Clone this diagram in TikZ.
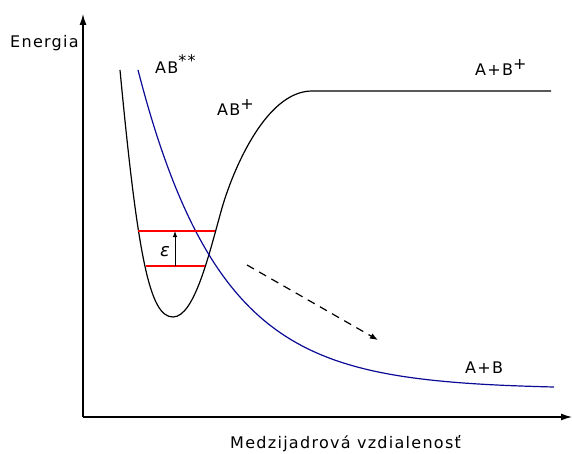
\documentclass[tikz,border=0pt]{standalone}
\usepackage{fontspec}
\setmainfont{DejaVu Sans}[LetterSpace=8]
\usetikzlibrary{arrows.meta}
\definecolor{curveblue}{RGB}{10,10,150}
\newcommand{\mysup}[2][6pt]{\raisebox{#1}{\fontsize{16}{16}\selectfont #2}}
\tikzset{
  lbl/.style={anchor=base west,inner sep=0pt,font=\fontsize{16}{18}\selectfont},
  axis/.style={line width=1.3pt,-{Latex[length=11pt,width=7pt]}},
  curve/.style={line width=1.2pt},
  level/.style={red,line width=1.2pt},
}
\begin{document}
\begin{tikzpicture}[x=1pt,y=-1pt]
\useasboundingbox (0,0) rectangle (572,454);
% axes
\coordinate (O) at (83,417);
\coordinate (ytop) at (83,14);
\coordinate (xend) at (572,417);
\draw[axis] (O) -- (ytop);
\draw[axis] (O) -- (xend);
% black curve AB+
\draw[curve] (120,70) .. controls (138,260) and (150,317) .. (173,317)
  .. controls (195,317) and (210,250) .. (222,208)
  .. controls (232,173) and (265,91) .. (312,91) -- (551,91);
% blue curve AB**
\draw[curve,curveblue,domain=138:554,samples=120,smooth] plot (\x,{389-319*exp(-(\x-138)/82)});
% vibrational levels
\coordinate (u1) at (138,231); \coordinate (u2) at (215,231);
\coordinate (l1) at (146,266); \coordinate (l2) at (205,266);
\draw[level] (u1) -- (u2);
\draw[level] (l1) -- (l2);
\coordinate (ea) at (175,266); \coordinate (eb) at (175,231);
\draw[line width=0.9pt,-{Latex[length=6pt,width=4.5pt]}] (ea) -- (eb);
% dashed arrow
\coordinate (d1) at (247,265); \coordinate (d2) at (378,340);
\draw[line width=1.2pt,dash pattern=on 8pt off 6pt,-{Latex[length=8pt,width=6pt]}] (d1) -- (d2);
% labels
\node[lbl] (en) at (10,48) {Energia};
\node[lbl] (abss) at (155,74) {AB\mysup[7.5pt]{**}};
\node[lbl] (abp) at (217,116) {AB\mysup{+}};
\node[lbl] (apbp) at (475,76) {A+B\mysup{+}};
\node[lbl] (apb) at (465,373) {A+B};
\node[lbl,font=\fontsize{18}{18}\selectfont] (eps) at (160,256) {\itshape ε};
\node[lbl] (xl) at (230,448) {Medzijadrová vzdialenosť};
\end{tikzpicture}
\end{document}
